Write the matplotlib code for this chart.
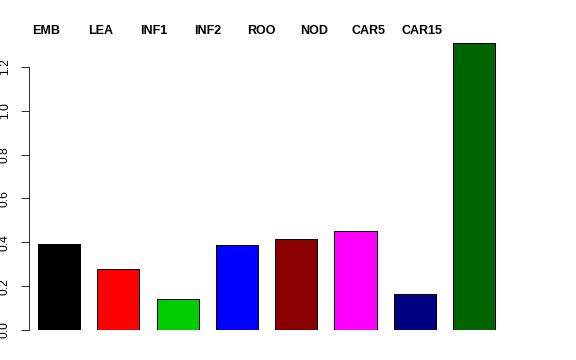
import matplotlib
matplotlib.use("Agg")
import matplotlib.pyplot as plt
import numpy as np

plt.rcParams['font.family'] = ['Liberation Sans', 'DejaVu Sans']

# data
categories = ["EMB", "LEA", "INF1", "INF2", "ROO", "NOD", "CAR5", "CAR15"]
values = [0.393, 0.280, 0.143, 0.387, 0.415, 0.451, 0.164, 1.310]
colors = ["#000000", "#FF0000", "#00CD00", "#0000FF",
          "#8B0000", "#FF00FF", "#000080", "#006400"]
yticks = [0.0, 0.2, 0.4, 0.6, 0.8, 1.0, 1.2]

DPI = 72
fig = plt.figure(figsize=(576 / DPI, 360 / DPI), dpi=DPI)
# plot region in pixels: x 29..512, y 30..330 (from top)
ax = fig.add_axes([29 / 576, 30 / 360, (512 - 29) / 576, 300 / 360])

x = np.arange(len(categories))
ax.bar(x, values, width=0.71, color=colors, edgecolor="black", linewidth=1.0)

ax.set_xlim(-0.506, 7.64)
ax.set_ylim(0, 300 / 219.2)

# R-like axes: only a left axis spanning the tick range
for s in ["top", "right", "bottom"]:
    ax.spines[s].set_visible(False)
ax.spines["left"].set_bounds(0, 1.2)
ax.spines["left"].set_linewidth(0.8)
ax.set_xticks([])
ax.set_yticks(yticks)
ax.set_yticklabels([f"{t:.1f}" for t in yticks])
ax.tick_params(axis="y", length=8, width=0.8, pad=10, labelsize=12)
plt.setp(ax.get_yticklabels(), rotation=90, va="center", ha="right")

# category labels across the top
label_x = -0.21 + 0.904 * np.arange(len(categories))
for lx, name in zip(label_x, categories):
    ax.text(lx, 296 / 219.2, name, ha="center", va="baseline",
            fontsize=12.5, fontweight="bold", clip_on=False)

fig.savefig("out.png", dpi=DPI)
